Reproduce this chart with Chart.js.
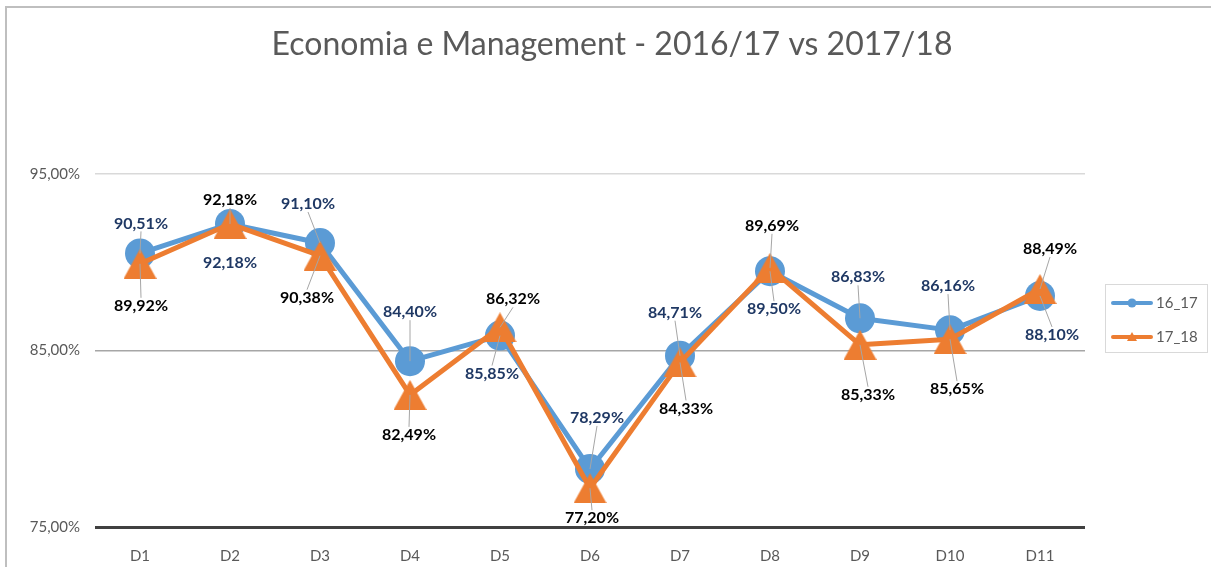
<!DOCTYPE html>
<html>
<head>
<meta charset="utf-8">
<script src="https://cdn.jsdelivr.net/npm/chart.js@4.4.0/dist/chart.umd.min.js"></script>
<style>
  html, body { margin: 0; padding: 0; background: #fff; }
  #wrap { width: 1211px; height: 567px; position: relative; }
</style>
</head>
<body>
<div id="wrap"><canvas id="miChart" width="1211" height="567"></canvas></div>
<script>
// Dati del grafico
const titolo = 'Economia e Management - 2016/17 vs 2017/18';
const categorie = ['D1', 'D2', 'D3', 'D4', 'D5', 'D6', 'D7', 'D8', 'D9', 'D10', 'D11'];
const valori1617 = [90.51, 92.18, 91.10, 84.40, 85.85, 78.29, 84.71, 89.50, 86.83, 86.16, 88.10];
const valori1718 = [89.92, 92.18, 90.38, 82.49, 86.32, 77.20, 84.33, 89.69, 85.33, 85.65, 88.49];
const tickAsseY = [75, 85, 95];

// Spostamento delle etichette rispetto al punto: [dx, dy, linea guida]
const etichette1617 = [[1, -30, 1], [0, 39, 0], [-12, -39, 1], [0, -49, 1], [-8, 38, 1], [7, -51, 1],
                       [-5, -43, 1], [4, 38, 1], [-2, -41, 1], [-2, -44, 1], [12, 39, 1]];
const etichette1718 = [[1, 42, 1], [0, -24, 1], [-13, 42, 1], [-1, 40, 1], [13, -28, 1], [2, 30, 1],
                       [6, 46, 1], [2, -42, 1], [8, 50, 1], [7, 50, 1], [10, -40, 1]];

const BLU = '#5B9BD5';
const ARANCIO = '#ED7D31';
const FONT = 'Lato, "Open Sans", sans-serif';

const formatta = (v) => v.toFixed(2).replace('.', ',') + '%';

// Triangolo centrato (come in Excel)
const creaTriangolo = (w, h, colore) => {
    const c = document.createElement('canvas');
    c.width = w; c.height = h;
    const g = c.getContext('2d');
    g.fillStyle = colore;
    g.beginPath();
    g.moveTo(w / 2, 0);
    g.lineTo(w, h);
    g.lineTo(0, h);
    g.closePath();
    g.fill();
    return c;
};
const triangolo = creaTriangolo(33, 30, ARANCIO);

// Cornice, sfondo e titolo
const cornicePlugin = {
    id: 'cornice',
    beforeDraw(chart) {
        const ctx = chart.ctx;
        ctx.save();
        ctx.fillStyle = '#fff';
        ctx.fillRect(0, 0, chart.width, chart.height);
        ctx.strokeStyle = '#BFBFBF';
        ctx.lineWidth = 2;
        ctx.beginPath();
        ctx.moveTo(6, chart.height);
        ctx.lineTo(6, 7);
        ctx.lineTo(chart.width, 7);
        ctx.stroke();
        ctx.fillStyle = '#595959';
        ctx.font = '32px ' + FONT;
        ctx.textAlign = 'center';
        ctx.textBaseline = 'middle';
        ctx.fillText(titolo, 612, 45);
        ctx.restore();
    }
};

// Etichette dati con linee guida
const etichettePlugin = {
    id: 'etichette',
    afterDatasetsDraw(chart) {
        const ctx = chart.ctx;
        ctx.save();
        // prima le linee guida
        chart.data.datasets.forEach((ds, i) => {
            const meta = chart.getDatasetMeta(i);
            meta.data.forEach((pt, j) => {
                const [dx, dy, guida] = ds.etichette[j];
                if (!guida) return;
                const x = pt.x + dx, y = pt.y + dy;
                ctx.strokeStyle = '#A6A6A6';
                ctx.lineWidth = 1;
                ctx.beginPath();
                ctx.moveTo(x, y + (dy > 0 ? -8 : 8));
                ctx.lineTo(pt.x, pt.y);
                ctx.stroke();
            });
        });
        // poi i testi
        chart.data.datasets.forEach((ds, i) => {
            const meta = chart.getDatasetMeta(i);
            ctx.font = 'bold 16px ' + FONT;
            ctx.fillStyle = ds.coloreEtichetta;
            ctx.textAlign = 'center';
            ctx.textBaseline = 'middle';
            meta.data.forEach((pt, j) => {
                const [dx, dy] = ds.etichette[j];
                ctx.fillText(formatta(ds.data[j]), pt.x + dx, pt.y + dy);
            });
        });
        ctx.restore();
    }
};

// Legenda a destra
const legendaPlugin = {
    id: 'legenda',
    afterDraw(chart) {
        const ctx = chart.ctx;
        ctx.save();
        ctx.strokeStyle = '#D9D9D9';
        ctx.lineWidth = 1;
        ctx.strokeRect(1105.5, 284.5, 102, 68);
        const voci = [
            { testo: '16_17', colore: BLU, y: 303, tipo: 'cerchio' },
            { testo: '17_18', colore: ARANCIO, y: 337, tipo: 'triangolo' }
        ];
        voci.forEach(v => {
            ctx.strokeStyle = v.colore;
            ctx.fillStyle = v.colore;
            ctx.lineWidth = 4;
            ctx.lineCap = 'round';
            ctx.beginPath();
            ctx.moveTo(1113, v.y);
            ctx.lineTo(1151, v.y);
            ctx.stroke();
            ctx.beginPath();
            if (v.tipo === 'cerchio') {
                ctx.arc(1132, v.y, 4.5, 0, Math.PI * 2);
            } else {
                ctx.moveTo(1132, v.y - 5);
                ctx.lineTo(1137, v.y + 4);
                ctx.lineTo(1127, v.y + 4);
                ctx.closePath();
            }
            ctx.fill();
            ctx.fillStyle = '#595959';
            ctx.font = '15px ' + FONT;
            ctx.textAlign = 'left';
            ctx.textBaseline = 'middle';
            ctx.fillText(v.testo, 1156, v.y);
        });
        ctx.restore();
    }
};

const miChart = document.querySelector('#miChart');
new Chart(miChart, {
    type: 'line',
    data: {
        labels: categorie,
        datasets: [
            {
                label: '16_17', data: valori1617, etichette: etichette1617, coloreEtichetta: '#1F3864',
                borderColor: BLU, backgroundColor: BLU, borderWidth: 5, tension: 0,
                borderJoinStyle: 'round', borderCapStyle: 'round',
                pointStyle: 'circle', pointRadius: 15, pointBorderWidth: 0, order: 1
            },
            {
                label: '17_18', data: valori1718, etichette: etichette1718, coloreEtichetta: '#000000',
                borderColor: ARANCIO, backgroundColor: ARANCIO, borderWidth: 5, tension: 0,
                borderJoinStyle: 'round', borderCapStyle: 'round',
                pointStyle: triangolo, pointRadius: 16, order: 0
            }
        ]
    },
    options: {
        responsive: false,
        animation: false,
        devicePixelRatio: 1,
        layout: { padding: { left: 0, right: 126, top: 86, bottom: 0 } },
        plugins: {
            legend: { display: false },
            tooltip: { enabled: false },
            title: { display: false }
        },
        scales: {
            x: {
                offset: true,
                grid: { display: false },
                border: { display: false },
                ticks: { color: '#595959', font: { family: FONT, size: 15 }, padding: 12 },
                afterFit: (scale) => { scale.height = 40; }
            },
            y: {
                min: 75,
                max: 100,
                border: { display: false },
                afterBuildTicks: (scale) => { scale.ticks = tickAsseY.map(v => ({ value: v })); },
                afterFit: (scale) => { scale.width = 95; },
                grid: {
                    drawTicks: false,
                    color: (c) => c.tick.value === 75 ? '#404040' : (c.tick.value === 85 ? '#A6A6A6' : '#D9D9D9'),
                    lineWidth: (c) => c.tick.value === 75 ? 3 : 1.5
                },
                ticks: {
                    color: '#595959',
                    font: { family: FONT, size: 15 },
                    padding: 15,
                    callback: (v) => formatta(v)
                }
            }
        }
    },
    plugins: [cornicePlugin, etichettePlugin, legendaPlugin]
});
</script>
</body>
</html>
